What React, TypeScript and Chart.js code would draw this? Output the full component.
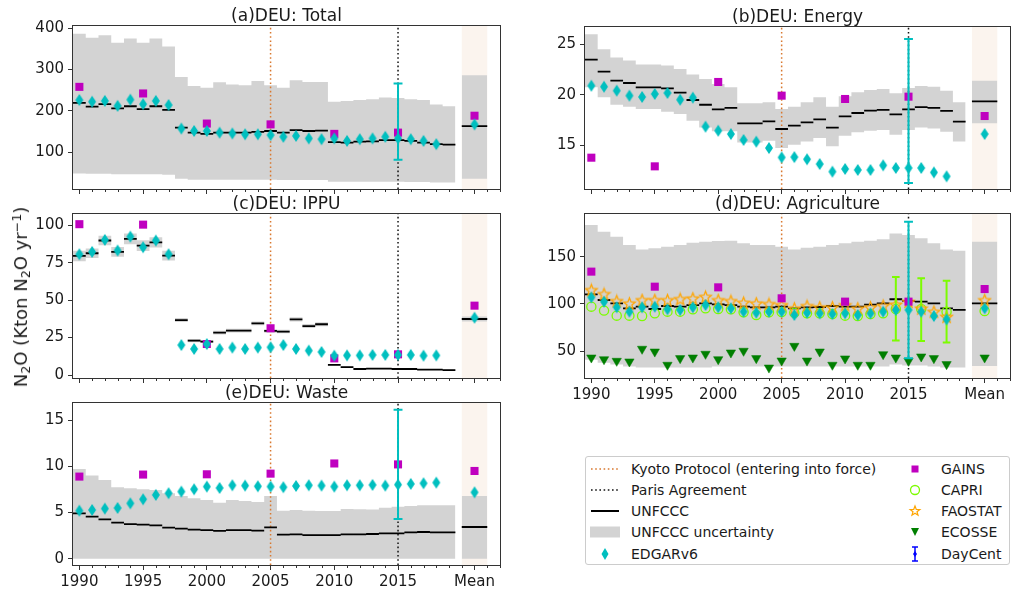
import React, { useEffect, useRef } from 'react';
import { Chart, registerables } from 'chart.js';

Chart.register(...registerables);

const FONT = "'DejaVu Sans', 'Liberation Sans', sans-serif";
Chart.defaults.font.family = FONT;
Chart.defaults.color = '#1a1a1a';

// ---------- axis / time data ----------
const UNF_YEARS = [1990, 1991, 1992, 1993, 1994, 1995, 1996, 1997, 1998, 1999, 2000, 2001, 2002, 2003, 2004, 2005, 2006, 2007, 2008, 2009, 2010, 2011, 2012, 2013, 2014, 2015, 2016, 2017, 2018, 2019];
const EDGAR_YEARS = [1990, 1991, 1992, 1993, 1994, 1995, 1996, 1997, 1998, 1999, 2000, 2001, 2002, 2003, 2004, 2005, 2006, 2007, 2008, 2009, 2010, 2011, 2012, 2013, 2014, 2015, 2016, 2017, 2018];
const GAINS_YEARS = [1990, 1995, 2000, 2005, 2010, 2015];
const CAPRI_YEARS = [1990, 1991, 1992, 1993, 1994, 1995, 1996, 1997, 1998, 1999, 2000, 2001, 2002, 2003, 2004, 2005, 2006, 2007, 2008, 2009, 2010, 2011, 2012, 2013, 2014, 2016, 2018];
const FAO_YEARS = EDGAR_YEARS;
const ECOSSE_YEARS = EDGAR_YEARS;
const CAPRI_ERR_YEARS = [2014, 2016, 2018];
const CAPRI_ERR_LO = [61.5, 61.0, 59.4];
const CAPRI_ERR_HI = [128.5, 127.1, 124.6];

const X_TICK_YEARS = [1990, 1995, 2000, 2005, 2010, 2015];
const MEAN_X = 2021;
const MEAN_LABEL = 'Mean';
const MEAN_FROM = 2020;
const MEAN_TO = 2022;
const X_MIN = 1989.5;
const X_MAX = 2023;
const KYOTO_YEAR = 2005;
const PARIS_YEAR = 2015;
const EDGAR_ERR_YEAR = 2015;

// ---------- (a) Total ----------
const totalUnf = [219, 210, 216, 206, 211, 204, 211, 202, 159, 147, 144, 147, 147, 147, 149, 151, 147, 153, 151, 152, 124, 123, 125, 126, 129, 129, 127, 123, 119, 118];
const totalUp = [387, 377, 383, 365, 375, 365, 375, 356, 282, 260, 256, 269, 264, 262, 272, 262, 256, 274, 270, 270, 222, 224, 226, 228, 232, 231, 228, 226, 215, 211];
const totalLo = [48, 47, 47, 46, 46, 46, 46, 45, 35, 33, 33, 33, 33, 33, 33, 33, 32, 32, 32, 32, 28, 28, 28, 28, 28, 28, 27, 27, 26, 26];
const totalEdgar = [226, 222, 224, 212, 227, 216, 224, 214, 157, 151, 151, 147, 145, 143, 143, 141, 137, 139, 133, 131, 133, 127, 131, 133, 137, 133, 131, 127, 119];
const totalGains = [258, 242, 169, 167, 144, 147];
const totalMean = [163, 286, 35, 167, 188]; // unf, up, lo, edgar, gains
const totalErr = [81, 266];

// ---------- (b) Energy ----------
const energyUnf = [23.48, 22.28, 21.39, 21.16, 20.73, 20.73, 20.63, 20.2, 19.47, 19.0, 18.54, 18.68, 17.15, 17.15, 17.35, 16.59, 16.92, 17.25, 17.55, 16.72, 17.85, 18.18, 18.41, 18.48, 18.05, 18.54, 18.77, 18.68, 18.38, 17.32];
const energyUp = [26.0, 24.5, 23.7, 23.4, 23.0, 23.0, 22.9, 22.55, 22.0, 21.56, 21.06, 20.73, 19.14, 19.14, 19.24, 18.58, 18.8, 19.24, 19.74, 18.8, 19.83, 20.23, 20.46, 20.56, 20.13, 20.66, 20.86, 20.79, 20.4, 19.24];
const energyLo = [20.73, 19.74, 19.0, 18.8, 18.58, 18.58, 18.3, 18.08, 17.42, 16.75, 16.36, 16.36, 15.26, 15.26, 15.43, 14.7, 15.03, 15.36, 15.7, 14.87, 15.93, 16.26, 16.42, 16.49, 16.03, 16.49, 16.75, 16.65, 16.32, 15.36];
const energyEdgar = [20.89, 20.79, 20.4, 19.9, 19.77, 20.07, 20.17, 19.5, 19.7, 16.82, 16.42, 16.09, 15.5, 15.33, 14.7, 13.77, 13.8, 13.58, 13.11, 12.35, 12.62, 12.52, 12.52, 12.98, 12.72, 12.72, 12.72, 12.28, 11.89];
const energyGains = [13.74, 12.88, 21.26, 19.9, 19.57, 19.8];
const energyMean = [19.34, 21.39, 17.15, 16.09, 17.88];
const energyErr = [11.22, 25.53];

// ---------- (c) IPPU ----------
const ippuUnf = [79.5, 81.3, 89.8, 82.2, 90.9, 86.4, 88.6, 79.7, 36.7, 22.9, 22.3, 28.3, 29.6, 29.6, 34.5, 29.4, 29.0, 37.2, 32.7, 33.9, 6.7, 5.3, 4.0, 4.2, 4.2, 4.0, 4.0, 3.6, 3.6, 3.3];
const ippuUp = [83, 84.5, 93, 85.5, 94.5, 90, 92, 83, 38, 24, 23.3, 29.5, 30.8, 30.8, 35.8, 30.6, 30.2, 38.6, 34, 35.2, 7, 5.6, 4.3, 4.5, 4.5, 4.3, 4.3, 3.9, 3.9, 3.6];
const ippuLo = [76, 78.1, 86.6, 78.9, 87.3, 82.8, 85.2, 76.4, 35.4, 21.8, 21.3, 27.1, 28.4, 28.4, 33.2, 28.2, 27.8, 35.8, 31.4, 32.6, 6.4, 5.0, 3.7, 3.9, 3.9, 3.7, 3.7, 3.3, 3.3, 3.0];
const ippuEdgar = [80.6, 82.2, 90.2, 83.1, 92.4, 85.3, 89.8, 80.6, 20.0, 17.4, 20.7, 17.4, 18.3, 17.4, 18.3, 18.5, 20.0, 17.4, 16.3, 15.4, 12.9, 13.1, 13.1, 13.4, 13.4, 13.4, 13.4, 12.9, 13.1];
const ippuGains = [100.7, 100.4, 20.7, 31.2, 11.1, 13.8];
const ippuMean = [37.4, 39.0, 35.8, 38.3, 46.3];

// ---------- (d) Agriculture ----------
const agriUnf = [110.2, 104.2, 100.7, 95.4, 97.2, 94.7, 97.9, 97.2, 98.9, 100.7, 99.6, 98.9, 97.2, 96.5, 96.5, 97.2, 95.4, 96.5, 96.8, 97.9, 97.2, 97.2, 99.3, 100.7, 105, 103.2, 102.5, 100.7, 95.4, 93.7];
const agriUp = [183.5, 176.4, 171.1, 162.3, 157.7, 158.8, 160.6, 162.3, 164.8, 165.8, 166.5, 166.9, 164.1, 162.3, 162.3, 160.6, 157.7, 159.5, 160.6, 162.3, 164.1, 165.8, 166.9, 168.3, 174.6, 172.9, 169.4, 164.1, 157.7, 156.3];
const agriLo = [41, 38, 36, 34, 33, 33, 33, 33, 33, 33, 34, 34, 34, 34, 34, 34, 34, 34, 34, 34, 34, 34, 34, 34, 36, 35, 35, 34, 33, 33];
const agriEdgar = [107, 102.5, 96.5, 91.9, 96.5, 97.2, 94.4, 93.7, 96.5, 98.9, 96.5, 95.4, 91.9, 90.8, 91.9, 91.9, 88.4, 90.8, 90.1, 89.4, 90.1, 88.4, 90.1, 91.9, 93.7, 93.7, 91.9, 87.3, 83.8];
const agriGains = [134.2, 118.3, 117.6, 106, 102.5, 102.5];
const agriMean = [100.7, 165.8, 34.5, 95.4, 115.8];
const agriErr = [42.6, 187];
const agriCapri = [97.2, 93, 87.7, 87.7, 87.3, 90.1, 91.9, 91.9, 94.4, 95.4, 94.7, 94.4, 91.2, 88.4, 91.2, 91.5, 90.8, 90.1, 90.1, 89.4, 87.7, 87.3, 89.4, 90.1, 94.7, 94.7, 91.9];
const agriFao = [114.8, 110.6, 103.2, 100.7, 104.2, 104.2, 104.2, 105.3, 106, 107.7, 104.2, 103.2, 101.4, 100.7, 100, 98.9, 95.4, 97.9, 96.5, 96.5, 98.9, 95.4, 96.5, 98.2, 99.5, 102.5, 95.4, 91.9, 86.6];
const agriEcosse = [43.3, 41.5, 39.8, 39.1, 52.5, 49.6, 35.6, 42.6, 43.3, 47.2, 41.5, 48.6, 50.4, 42.6, 32.7, 40.1, 55.6, 40.1, 49.6, 35.6, 42.3, 35.6, 35.6, 46.8, 43.3, 39.8, 44.4, 42.6, 36.3];
const agriMeanCapri = 92.6;
const agriMeanFao = 104.2;
const agriMeanEcosse = 43.3;

// ---------- (e) Waste ----------
const wasteUnf = [4.91, 4.55, 4.26, 3.9, 3.75, 3.68, 3.61, 3.36, 3.25, 3.14, 3.1, 3.0, 3.1, 3.1, 3.03, 3.39, 2.6, 2.64, 2.56, 2.56, 2.56, 2.64, 2.64, 2.67, 2.74, 2.74, 2.85, 2.89, 2.85, 2.85];
const wasteUp = [9.71, 8.99, 8.52, 7.73, 7.62, 7.51, 7.44, 7.08, 6.79, 6.53, 6.35, 6.06, 6.35, 6.25, 6.14, 6.79, 5.2, 5.27, 5.2, 5.16, 5.16, 5.38, 5.34, 5.31, 5.52, 5.63, 5.7, 5.78, 5.78, 5.78];
const wasteLo = [0, 0, 0, 0, 0, 0, 0, 0, 0, 0, 0, 0, 0, 0, 0, 0, 0, 0, 0, 0, 0, 0, 0, 0, 0, 0, 0, 0, 0, 0];
const wasteEdgar = [5.2, 5.27, 5.42, 5.49, 5.99, 6.43, 6.9, 7.08, 7.26, 7.51, 7.8, 7.65, 7.94, 7.91, 7.83, 7.8, 7.73, 7.87, 7.94, 7.91, 7.8, 7.94, 7.94, 7.98, 7.91, 8.01, 8.09, 8.16, 8.23];
const wasteGains = [8.88, 9.1, 9.13, 9.2, 10.3, 10.2];
const wasteMean = [3.43, 6.79, 0, 7.18, 9.49];
const wasteErr = [4.3, 16.1];

// ---------- legend text ----------
const LEG_LEFT = ['Kyoto Protocol (entering into force)', 'Paris Agreement', 'UNFCCC', 'UNFCCC uncertainty', 'EDGARv6'];
const LEG_RIGHT = ['GAINS', 'CAPRI', 'FAOSTAT', 'ECOSSE', 'DayCent'];

// ---------- colours ----------
const C_BAND = '#d3d3d3';
const C_MEANBG = '#fbf4ee';
const C_EDGAR = '#00bfbf';
const C_GAINS = '#bf00bf';
const C_CAPRI = '#7cfc00';
const C_FAO = '#ffa500';
const C_ECOSSE = '#007f00';
const C_KYOTO = '#d9782f';
const C_DAYCENT = '#0000ff';

interface PanelSpec {
  title: string;
  yMin: number; yMax: number; yTicks: number[];
  unf: number[]; up: number[]; lo: number[]; edgar: number[]; gains: number[];
  mean: number[];
  err?: number[];
  agri?: boolean;
  showX: boolean;
  canvas: { left: number; top: number; w: number; h: number };
  area: { left: number; top: number; right: number; bottom: number };
}

const PANELS: PanelSpec[] = [
  { title: '(a)DEU: Total', yMin: 10.3, yMax: 405.6, yTicks: [100, 200, 300, 400], unf: totalUnf, up: totalUp, lo: totalLo, edgar: totalEdgar, gains: totalGains, mean: totalMean, err: totalErr, showX: false,
    canvas: { left: 0, top: 0, w: 510, h: 195 }, area: { left: 73, top: 26, right: 500, bottom: 189 } },
  { title: '(b)DEU: Energy', yMin: 10.63, yMax: 26.72, yTicks: [15, 20, 25], unf: energyUnf, up: energyUp, lo: energyLo, edgar: energyEdgar, gains: energyGains, mean: energyMean, err: energyErr, showX: false,
    canvas: { left: 510, top: 0, w: 501, h: 195 }, area: { left: 585, top: 27, right: 1010, bottom: 189 } },
  { title: '(c)DEU: IPPU', yMin: -2, yMax: 107.5, yTicks: [0, 25, 50, 75, 100], unf: ippuUnf, up: ippuUp, lo: ippuLo, edgar: ippuEdgar, gains: ippuGains, mean: ippuMean, showX: false,
    canvas: { left: 0, top: 188, w: 510, h: 202 }, area: { left: 73, top: 214, right: 500, bottom: 378 } },
  { title: '(d)DEU: Agriculture', yMin: 21.8, yMax: 195.1, yTicks: [50, 100, 150], unf: agriUnf, up: agriUp, lo: agriLo, edgar: agriEdgar, gains: agriGains, mean: agriMean, err: agriErr, agri: true, showX: true,
    canvas: { left: 510, top: 188, w: 501, h: 222 }, area: { left: 585, top: 214, right: 1010, bottom: 378 } },
  { title: '(e)DEU: Waste', yMin: -0.68, yMax: 16.84, yTicks: [0, 5, 10, 15], unf: wasteUnf, up: wasteUp, lo: wasteLo, edgar: wasteEdgar, gains: wasteGains, mean: wasteMean, err: wasteErr, showX: true,
    canvas: { left: 0, top: 376, w: 510, h: 218 }, area: { left: 73, top: 403, right: 500, bottom: 565 } },
];

// ---------- helpers building library data ----------
function stepPts(xs: number[], vals: number[], half: number) {
  const pts: any[] = [];
  xs.forEach((x, i) => { pts.push({ x: x - half, y: vals[i] }, { x: x + half, y: vals[i] }); });
  return pts;
}
function segPts(xs: number[], vals: number[], half: number) {
  const pts: any[] = [];
  xs.forEach((x, i) => { pts.push({ x: x - half, y: vals[i] }, { x: x + half, y: vals[i] }, { x: x + half, y: null }); });
  return pts;
}
function errPts(xs: number[], lo: number[], hi: number[], cap: number) {
  const pts: any[] = [];
  xs.forEach((x, i) => {
    pts.push({ x, y: lo[i] }, { x, y: hi[i] }, { x, y: null });
    pts.push({ x: x - cap, y: hi[i] }, { x: x + cap, y: hi[i] }, { x: x + cap, y: null });
    pts.push({ x: x - cap, y: lo[i] }, { x: x + cap, y: lo[i] }, { x: x + cap, y: null });
  });
  return pts;
}
function xy(xs: number[], vals: number[]) {
  return xs.map((x, i) => ({ x, y: vals[i] }));
}

function makeDiamond(color: string, w: number, h: number) {
  const c = document.createElement('canvas');
  c.width = w + 2; c.height = h + 2;
  const g = c.getContext('2d')!;
  g.fillStyle = color;
  g.beginPath();
  g.moveTo((w + 2) / 2, 1);
  g.lineTo(w + 1, (h + 2) / 2);
  g.lineTo((w + 2) / 2, h + 1);
  g.lineTo(1, (h + 2) / 2);
  g.closePath();
  g.fill();
  return c;
}
function makeStar(color: string, R: number, r: number) {
  const s = Math.ceil(R * 2 + 3);
  const c = document.createElement('canvas');
  c.width = s; c.height = s;
  const g = c.getContext('2d')!;
  const cx = s / 2, cy = s / 2 + 0.6;
  g.beginPath();
  for (let k = 0; k < 10; k++) {
    const ang = -Math.PI / 2 + (k * Math.PI) / 5;
    const rad = k % 2 === 0 ? R : r;
    const px = cx + rad * Math.cos(ang), py = cy + rad * Math.sin(ang);
    if (k === 0) g.moveTo(px, py); else g.lineTo(px, py);
  }
  g.closePath();
  g.strokeStyle = color; g.lineWidth = 1.3; g.stroke();
  return c;
}

function lineDs(data: any[], extra: any) {
  return {
    type: 'line', data, pointRadius: 0, borderWidth: 0, borderColor: 'rgba(0,0,0,0)',
    fill: false, tension: 0, spanGaps: false, ...extra,
  };
}

function buildConfig(p: PanelSpec) {
  const diamond = makeDiamond(C_EDGAR, 8, 12);
  const star = makeStar(C_FAO, 6, 2.6);
  const [mUnf, mUp, mLo, mEdgar, mGains] = p.mean;
  const ds: any[] = [];
  ds.push(lineDs(stepPts(UNF_YEARS, p.up, 0.5), { fill: '+1', backgroundColor: C_BAND, order: 30 }));
  ds.push(lineDs(stepPts(UNF_YEARS, p.lo, 0.5), { order: 30 }));
  ds.push(lineDs(stepPts([MEAN_X], [mUp], MEAN_X - MEAN_FROM), { fill: '+1', backgroundColor: C_BAND, order: 30 }));
  ds.push(lineDs(stepPts([MEAN_X], [mLo], MEAN_X - MEAN_FROM), { order: 30 }));
  ds.push(lineDs([{ x: KYOTO_YEAR, y: p.yMin }, { x: KYOTO_YEAR, y: p.yMax }], { borderColor: C_KYOTO, borderWidth: 1.5, borderDash: [1.6, 2.6], order: 25 }));
  ds.push(lineDs([{ x: PARIS_YEAR, y: p.yMin }, { x: PARIS_YEAR, y: p.yMax }], { borderColor: '#111', borderWidth: 1.5, borderDash: [1.6, 2.6], order: 25 }));
  ds.push(lineDs(segPts(UNF_YEARS, p.unf, 0.5).concat(segPts([MEAN_X], [mUnf], MEAN_X - MEAN_FROM)), { borderColor: '#000', borderWidth: 1.8, order: 20 }));
  if (p.agri) {
    ds.push({ type: 'scatter', data: xy(CAPRI_YEARS, agriCapri).concat([{ x: MEAN_X, y: agriMeanCapri }]), pointStyle: 'circle', pointRadius: 4.6, borderColor: C_CAPRI, backgroundColor: 'rgba(0,0,0,0)', borderWidth: 1.3, order: 16 });
    ds.push({ type: 'scatter', data: xy(FAO_YEARS, agriFao).concat([{ x: MEAN_X, y: agriMeanFao }]), pointStyle: star, pointRadius: 6, order: 15 });
    ds.push({ type: 'scatter', data: xy(ECOSSE_YEARS, agriEcosse).concat([{ x: MEAN_X, y: agriMeanEcosse }]), pointStyle: 'triangle', rotation: 180, pointRadius: 5.4, backgroundColor: C_ECOSSE, borderColor: C_ECOSSE, borderWidth: 0.5, order: 14 });
    ds.push(lineDs(errPts(CAPRI_ERR_YEARS, CAPRI_ERR_LO, CAPRI_ERR_HI, 0.3), { borderColor: C_CAPRI, borderWidth: 2, order: 13 }));
  }
  ds.push({ type: 'scatter', data: xy(GAINS_YEARS, p.gains).concat([{ x: MEAN_X, y: mGains }]), pointStyle: 'rect', pointRadius: 5.7, backgroundColor: C_GAINS, borderColor: C_GAINS, borderWidth: 0, order: 12 });
  ds.push({ type: 'scatter', data: xy(EDGAR_YEARS, p.edgar).concat([{ x: MEAN_X, y: mEdgar }]), pointStyle: diamond, pointRadius: 6, order: 10 });
  if (p.err) {
    ds.push(lineDs(errPts([EDGAR_ERR_YEAR], [p.err[0]], [p.err[1]], 0.35), { borderColor: C_EDGAR, borderWidth: 2, order: 9 }));
  }

  const c = p.canvas, a = p.area;
  const yW = a.left - c.left;
  const xH = c.top + c.h - a.bottom;
  const majors = X_TICK_YEARS.concat([MEAN_X]);

  const decor = {
    id: 'decor',
    beforeDatasetsDraw(chart: any) {
      const { ctx, chartArea: ar, scales } = chart;
      const x0 = scales.x.getPixelForValue(MEAN_FROM);
      const x1 = scales.x.getPixelForValue(MEAN_TO);
      ctx.save();
      ctx.fillStyle = C_MEANBG;
      ctx.fillRect(x0, ar.top, x1 - x0, ar.bottom - ar.top);
      ctx.restore();
    },
    afterDraw(chart: any) {
      const { ctx, chartArea: ar, scales } = chart;
      ctx.save();
      ctx.strokeStyle = '#333';
      ctx.lineWidth = 1;
      ctx.strokeRect(ar.left - 0.5, ar.top - 0.5, ar.right - ar.left + 1, ar.bottom - ar.top + 1);
      ctx.beginPath();
      for (let yr = Math.ceil(X_MIN); yr <= Math.floor(X_MAX); yr++) {
        if (majors.includes(yr)) continue;
        const px = Math.round(scales.x.getPixelForValue(yr)) + 0.5;
        ctx.moveTo(px, ar.bottom);
        ctx.lineTo(px, ar.bottom + 3);
      }
      ctx.stroke();
      ctx.fillStyle = '#1a1a1a';
      ctx.font = `17px ${FONT}`;
      ctx.textAlign = 'center';
      ctx.textBaseline = 'alphabetic';
      ctx.fillText(p.title, (ar.left + ar.right) / 2, ar.top - 5);
      ctx.restore();
    },
  };

  const gridOpts = { display: true, drawOnChartArea: false, drawTicks: true, tickLength: 5, color: '#333', tickColor: '#333', lineWidth: 1 };

  return {
    type: 'scatter',
    data: { datasets: ds },
    options: {
      animation: false,
      responsive: false,
      maintainAspectRatio: false,
      events: [],
      layout: { padding: { left: 0, top: a.top - c.top, right: c.left + c.w - a.right, bottom: 0 }, autoPadding: false },
      plugins: { legend: { display: false }, tooltip: { enabled: false }, title: { display: false } },
      scales: {
        x: {
          type: 'linear', min: X_MIN, max: X_MAX,
          grid: gridOpts, border: { display: false },
          ticks: {
            display: p.showX, autoSkip: false, maxRotation: 0, padding: 3,
            font: { size: 15, family: FONT }, color: '#1a1a1a',
            callback: (v: number) => (v === MEAN_X ? MEAN_LABEL : String(v)),
          },
          afterBuildTicks: (s: any) => { s.ticks = majors.map((v) => ({ value: v })); },
          afterFit: (s: any) => { s.height = xH; s.paddingLeft = 0; s.paddingRight = 0; s.paddingTop = 0; s.paddingBottom = 0; },
        },
        y: {
          type: 'linear', min: p.yMin, max: p.yMax,
          grid: gridOpts, border: { display: false },
          ticks: { padding: 4, font: { size: 15, family: FONT }, color: '#1a1a1a' },
          afterBuildTicks: (s: any) => { s.ticks = p.yTicks.map((v) => ({ value: v })); },
          afterFit: (s: any) => { s.width = yW; s.paddingLeft = 0; s.paddingRight = 0; s.paddingTop = 0; s.paddingBottom = 0; },
        },
      },
    },
    plugins: [decor],
  };
}

function Panel({ spec }: { spec: PanelSpec }) {
  const ref = useRef<HTMLCanvasElement>(null);
  useEffect(() => {
    const chart = new Chart(ref.current as HTMLCanvasElement, buildConfig(spec) as any);
    return () => chart.destroy();
  }, [spec]);
  const c = spec.canvas;
  return (
    <canvas
      ref={ref}
      width={c.w}
      height={c.h}
      style={{ position: 'absolute', left: c.left, top: c.top, width: c.w, height: c.h }}
    />
  );
}

function LeftIcon({ i }: { i: number }) {
  if (i === 0) return <svg width="30" height="16"><line x1="1" y1="8" x2="29" y2="8" stroke={C_KYOTO} strokeWidth="1.5" strokeDasharray="1.6 2.6" /></svg>;
  if (i === 1) return <svg width="30" height="16"><line x1="1" y1="8" x2="29" y2="8" stroke="#111" strokeWidth="1.5" strokeDasharray="1.6 2.6" /></svg>;
  if (i === 2) return <svg width="30" height="16"><line x1="1" y1="8" x2="29" y2="8" stroke="#000" strokeWidth="2" /></svg>;
  if (i === 3) return <svg width="30" height="16"><rect x="0" y="2.5" width="30" height="11" fill={C_BAND} /></svg>;
  return <svg width="30" height="16"><polygon points="15,2 18.5,8 15,14 11.5,8" fill={C_EDGAR} /></svg>;
}

function RightIcon({ i }: { i: number }) {
  if (i === 0) return <svg width="20" height="16"><rect x="6.5" y="4.5" width="7" height="7" fill={C_GAINS} /></svg>;
  if (i === 1) return <svg width="20" height="16"><circle cx="10" cy="8" r="4.5" fill="none" stroke={C_CAPRI} strokeWidth="1.3" /></svg>;
  if (i === 2) return <svg width="20" height="16"><polygon points="10,3 11.3,6.4 14.8,6.5 12,8.7 13,12.2 10,10.2 7,12.2 8,8.7 5.2,6.5 8.7,6.4" fill="none" stroke={C_FAO} strokeWidth="1.2" /></svg>;
  if (i === 3) return <svg width="20" height="16"><polygon points="6,4 14,4 10,12" fill={C_ECOSSE} /></svg>;
  return (
    <svg width="20" height="16">
      <line x1="10" y1="1" x2="10" y2="15" stroke={C_DAYCENT} strokeWidth="1.5" />
      <line x1="7" y1="1" x2="13" y2="1" stroke={C_DAYCENT} strokeWidth="1.5" />
      <line x1="7" y1="15" x2="13" y2="15" stroke={C_DAYCENT} strokeWidth="1.5" />
      <polygon points="10,5 12,8 10,11 8,8" fill={C_DAYCENT} />
    </svg>
  );
}

function Legend() {
  const rowTop = (i: number) => 11.5 + i * 21.3;
  return (
    <div style={{ position: 'absolute', left: 585, top: 456, width: 423, height: 107, border: '1px solid #cccccc', borderRadius: 3, background: '#fff', font: `14px ${FONT}`, color: '#1a1a1a' }}>
      {LEG_LEFT.map((t, i) => (
        <React.Fragment key={'l' + i}>
          <div style={{ position: 'absolute', left: 4, top: rowTop(i) - 8, width: 30, height: 16 }}><LeftIcon i={i} /></div>
          <div style={{ position: 'absolute', left: 45, top: rowTop(i) - 9, lineHeight: '18px', whiteSpace: 'nowrap' }}>{t}</div>
        </React.Fragment>
      ))}
      {LEG_RIGHT.map((t, i) => (
        <React.Fragment key={'r' + i}>
          <div style={{ position: 'absolute', left: 319, top: rowTop(i) - 8, width: 20, height: 16 }}><RightIcon i={i} /></div>
          <div style={{ position: 'absolute', left: 355, top: rowTop(i) - 9, lineHeight: '18px', whiteSpace: 'nowrap' }}>{t}</div>
        </React.Fragment>
      ))}
    </div>
  );
}

export default function App() {
  return (
    <div style={{ position: 'fixed', left: 0, top: 0, width: 1011, height: 594, background: '#fff', overflow: 'hidden' }}>
      {PANELS.map((p) => <Panel key={p.title} spec={p} />)}
      <div style={{ position: 'absolute', left: 21, top: 297, transform: 'translate(-50%, -50%) rotate(-90deg)', whiteSpace: 'nowrap', font: `18px ${FONT}`, color: '#1a1a1a', lineHeight: '20px' }}>
        N<sub style={{ fontSize: '0.7em', verticalAlign: '-0.25em', lineHeight: 0 }}>2</sub>O (Kton N<sub style={{ fontSize: '0.7em', verticalAlign: '-0.25em', lineHeight: 0 }}>2</sub>O yr<sup style={{ fontSize: '0.7em', verticalAlign: '0.5em', lineHeight: 0 }}>−1</sup>)
      </div>
      <Legend />
    </div>
  );
}
